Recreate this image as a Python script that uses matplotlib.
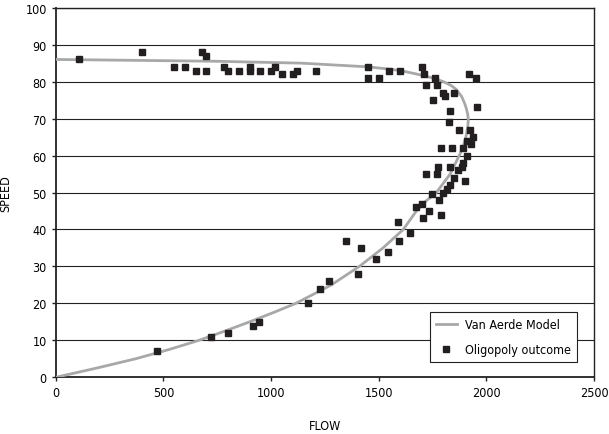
import matplotlib
matplotlib.use("Agg")
import matplotlib.pyplot as plt

plt.rcParams['font.family'] = ['DejaVu Sans']
plt.rcParams['font.stretch'] = 'condensed'

# Oligopoly outcome (flow, speed)
obs_flow = [110, 400, 550, 600, 650, 680, 700, 700, 780, 800, 850, 900, 900, 950,
            1000, 1020, 1050, 1100, 1120, 1210, 1450, 1450, 1500, 1550, 1600,
            1700, 1710, 1760, 1720, 1770, 1800, 1810, 1850, 1750, 1920, 1950,
            1955, 1830, 1825, 1875, 1925, 1940, 1910, 1930, 1790, 1840, 1890,
            1910, 1890, 1885, 1775, 1830, 1720, 1770, 1870, 1850, 1900, 1830,
            1815, 1797, 1748, 1780, 1700, 1673, 1735, 1707, 1790, 1588, 1645,
            1594, 1348, 1418, 1541, 1489, 1404, 1270, 1227, 1170, 945, 915,
            800, 720, 470]
obs_speed = [86, 88, 84, 84, 83, 88, 87, 83, 84, 83, 83, 84, 83, 83,
             83, 84, 82, 82, 83, 83, 84, 81, 81, 83, 83,
             84, 82, 81, 79, 79, 77, 76, 77, 75, 82, 81,
             73, 72, 69, 67, 67, 65, 64, 63, 62, 62, 62,
             60, 58, 57, 57, 57, 55, 55, 56, 54, 53, 52,
             51, 50, 49.5, 48, 47, 46, 45, 43, 44, 42, 39,
             37, 37, 35, 34, 32, 28, 26, 24, 20, 15, 14,
             12, 11, 7]

# Van Aerde model curve
model_speed = [0, 2.5, 5, 7.5, 10, 12.5, 15, 17.5, 20, 25, 30, 35, 40, 45, 47,
               50, 55, 60, 62, 65, 68, 69.5, 71, 72.5, 74, 76, 78, 79, 80, 81,
               82, 83, 83.5, 84, 85, 85.5, 86]
model_flow = [0, 190, 370, 525, 665, 785, 900, 1010, 1115, 1280, 1410, 1520,
              1614, 1675, 1705, 1768, 1832, 1874, 1890, 1905, 1914, 1916, 1914,
              1908, 1900, 1885, 1858, 1835, 1800, 1750, 1680, 1600, 1530, 1450,
              1140, 750, 0]

fig = plt.figure(figsize=(6.09, 4.35), dpi=100)
ax = fig.add_axes([0.0915, 0.1303, 0.8839, 0.8497])

ax.plot(model_flow, model_speed, color='#a8a8a8', lw=2, label='Van Aerde Model', zorder=3)
ax.plot(obs_flow, obs_speed, 's', color='#231f20', ms=4, ls='none',
        label='Oligopoly outcome', zorder=4)

ax.set_xlim(0, 2500)
ax.set_ylim(0, 100)
ax.set_xticks(range(0, 2501, 500))
ax.set_yticks(range(0, 101, 10))
ax.yaxis.grid(True, color='#222222', lw=0.8)
ax.set_axisbelow(True)
for s in ax.spines.values():
    s.set_color('#222222')
    s.set_linewidth(1.0)
ax.spines['left'].set_linewidth(1.3)
ax.spines['bottom'].set_linewidth(1.3)
ax.tick_params(labelsize=9, length=3, width=1, color='#222222')

ax.set_xlabel('FLOW', fontsize=9)
ax.set_ylabel('SPEED', fontsize=9)
ax.xaxis.set_label_coords(0.5, -0.113)
ax.yaxis.set_label_coords(-0.081, 0.5)

leg = ax.legend(loc='lower right', bbox_to_anchor=(0.968, 0.041), borderaxespad=0,
                fontsize=9, frameon=True, fancybox=False, framealpha=1,
                edgecolor='#222222', handlelength=1.7, handletextpad=0.6,
                borderpad=0.5, labelspacing=0.95)
leg.get_frame().set_linewidth(0.8)

fig.savefig('out.png', dpi=100)
